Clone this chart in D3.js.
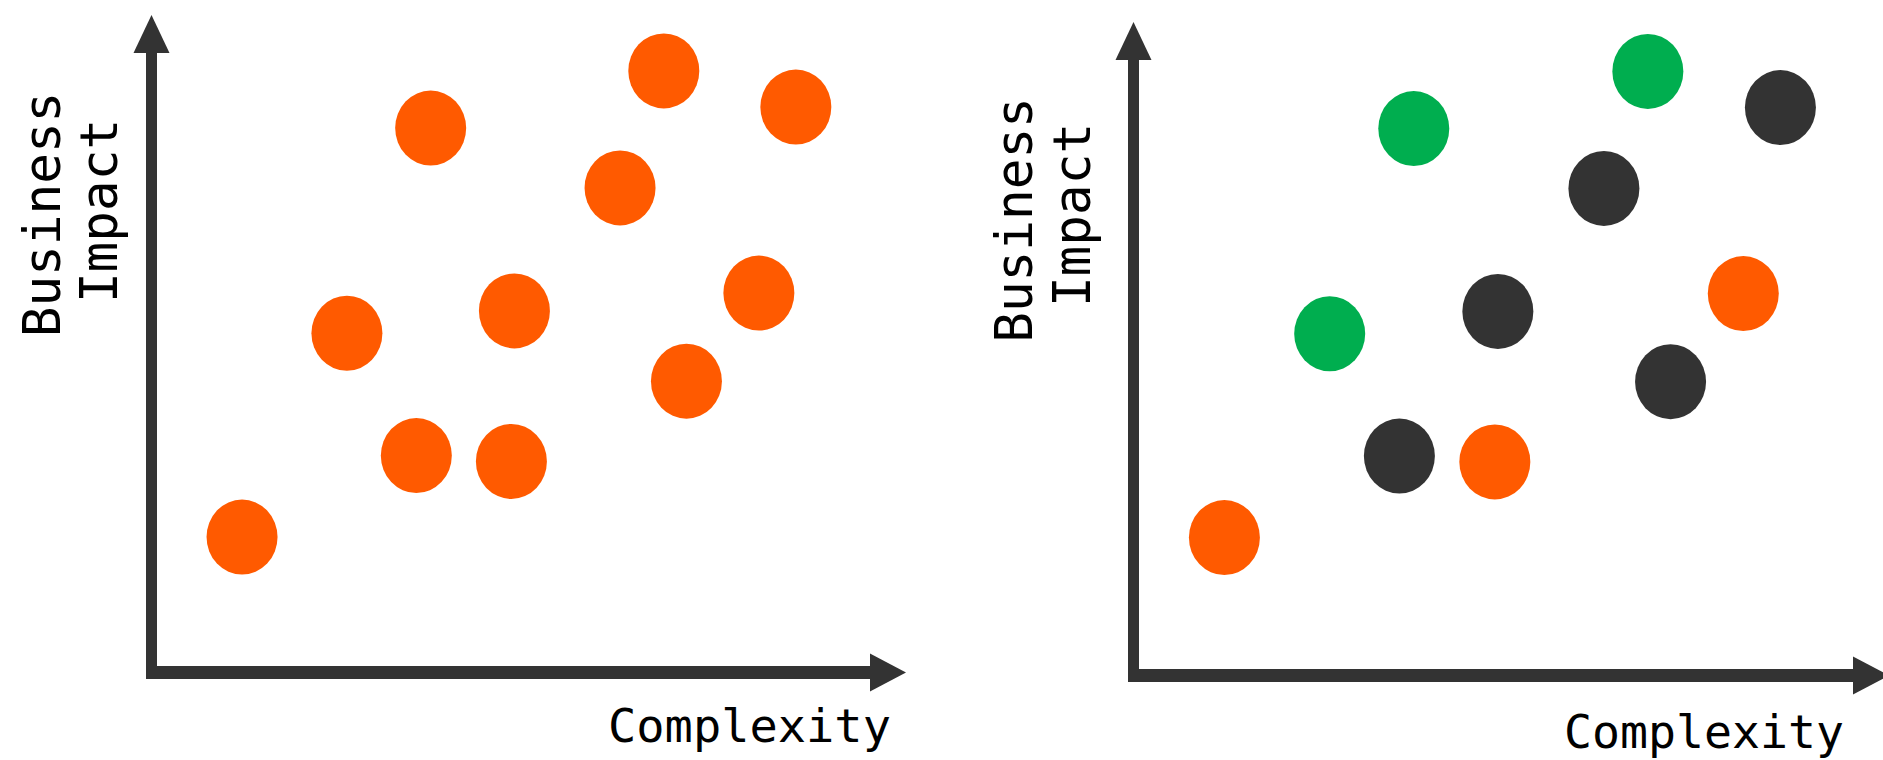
<!DOCTYPE html>
<html>
<head>
<meta charset="utf-8">
<script src="https://cdn.jsdelivr.net/npm/d3@7"></script>
<style>
  html, body { margin: 0; padding: 0; background: #ffffff; }
  svg { display: block; }
</style>
</head>
<body>
<svg id="chart" width="1883" height="760"></svg>
<script>
// ---- data (axis units 0..100 along each arrow) ----
const ideas = ["A", "B", "C", "D", "E", "F", "G", "H", "I", "J", "K"];
const complexity = [12.0, 25.9, 37.0, 35.1, 48.1, 47.7, 62.1, 67.9, 70.9, 80.5, 85.4];
const impact     = [20.6, 51.6, 82.8, 33.0, 55.0, 32.1, 73.7, 91.5, 44.3, 57.7, 86.0];
const statusLeft  = ["idea","idea","idea","idea","idea","idea","idea","idea","idea","idea","idea"];
const statusRight = ["idea","quick","quick","hold","hold","idea","hold","quick","hold","idea","hold"];
const statusNames  = ["idea", "quick", "hold"];
const statusColors = ["#ff5a00", "#00ae4f", "#333333"];
const xLabel = "Complexity";
const yLabelLines = ["Business", "Impact"];

const points = ideas.map((id, i) => ({ id, x: complexity[i], y: impact[i] }));
const color = d3.scaleOrdinal().domain(statusNames).range(statusColors);

const svg = d3.select("#chart");
const mono = "'DejaVu Sans Mono', 'Liberation Mono', monospace";

const panels = [
  { status: statusLeft,  ox: 151.5, oy: 672.5, yTip: 15, xTip: 906,
    xr: [151.5, 906], yr: [672.5, 15],
    yLab: [{x: 60, y: 214.5}, {x: 117, y: 211}], xLab: {x: 608, y: 742, fs: 47} },
  { status: statusRight, ox: 1133.5, oy: 675.5, yTip: 22, xTip: 1889,
    xr: [1133.5, 1891], yr: [673, 15.5],
    yLab: [{x: 1032, y: 220}, {x: 1090, y: 215}], xLab: {x: 1564, y: 748, fs: 46.5} }
];

panels.forEach(p => {
  const g = svg.append("g");
  const x = d3.scaleLinear().domain([0, 100]).range(p.xr);
  const y = d3.scaleLinear().domain([0, 100]).range(p.yr);

  const ink = "#333333";
  const ah = 38, aw = 18; // arrow length, half width
  // y axis line
  g.append("line")
    .attr("x1", p.ox).attr("x2", p.ox)
    .attr("y1", p.yTip + ah - 1).attr("y2", p.oy + 6.5)
    .attr("stroke", ink).attr("stroke-width", 11);
  // x axis line
  g.append("line")
    .attr("x1", p.ox - 4).attr("x2", p.xTip - ah + 2)
    .attr("y1", p.oy).attr("y2", p.oy)
    .attr("stroke", ink).attr("stroke-width", 13);
  // arrow heads
  g.append("path")
    .attr("d", `M${p.ox},${p.yTip} L${p.ox + aw},${p.yTip + ah} L${p.ox - aw},${p.yTip + ah} Z`)
    .attr("fill", ink);
  g.append("path")
    .attr("d", `M${p.xTip},${p.oy} L${p.xTip - 36},${p.oy - 19} L${p.xTip - 36},${p.oy + 19} Z`)
    .attr("fill", ink);

  // points
  g.selectAll("ellipse.pt")
    .data(points)
    .join("ellipse")
    .attr("class", "pt")
    .attr("cx", d => x(d.x))
    .attr("cy", d => y(d.y))
    .attr("rx", 35.5)
    .attr("ry", 37.5)
    .attr("fill", (d, i) => color(p.status[i]));

  // y label (two lines, rotated)
  yLabelLines.forEach((t, i) => {
    g.append("text")
      .attr("transform", `translate(${p.yLab[i].x},${p.yLab[i].y}) rotate(-90)`)
      .attr("text-anchor", "middle")
      .attr("font-family", mono)
      .attr("font-size", 51)
      .attr("fill", "#000")
      .text(t);
  });
  // x label
  g.append("text")
    .attr("x", p.xLab.x).attr("y", p.xLab.y)
    .attr("font-family", mono)
    .attr("font-size", p.xLab.fs)
    .attr("fill", "#000")
    .text(xLabel);
});
</script>
</body>
</html>
